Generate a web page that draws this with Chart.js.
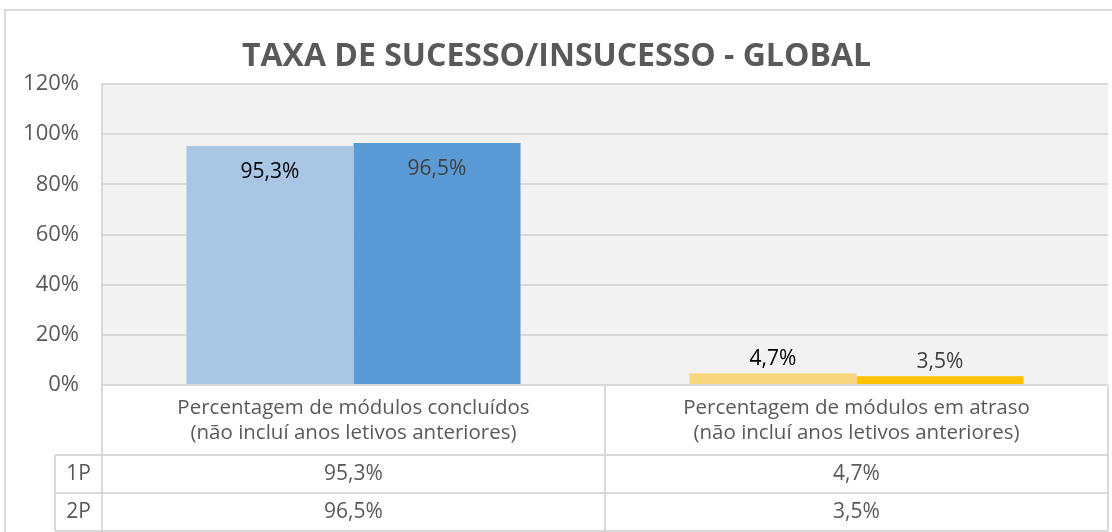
<!DOCTYPE html>
<html>
<head>
<meta charset="utf-8">
<script src="https://cdn.jsdelivr.net/npm/chart.js@4/dist/chart.umd.min.js"></script>
<style>
  body { margin: 0; background: #fff; }
</style>
</head>
<body>
<canvas id="grafico" width="1112" height="532"></canvas>
<script>
// dados
const categorias = [
  ['Percentagem de módulos concluídos', '(não incluí anos letivos anteriores)'],
  ['Percentagem de módulos em atraso', '(não incluí anos letivos anteriores)']
];
const series = ['1P', '2P'];
const valores1P = [95.3, 4.7];
const valores2P = [96.5, 3.5];
const cores1P = ['#a9c6e4', '#f6d87e'];
const cores2P = ['#5b9bd5', '#ffc000'];
const yMax = 120;
const yPasso = 20;

const fonte = '"Open Sans", sans-serif';
const cinza = '#595959';
const linha = '#d9d9d9';

function pct(v) {
  return v.toFixed(1).replace('.', ',') + '%';
}

// fundo + moldura
const fundo = {
  id: 'fundo',
  beforeDraw(chart) {
    const ctx = chart.ctx;
    const a = chart.chartArea;
    ctx.save();
    ctx.fillStyle = '#fff';
    ctx.fillRect(0, 0, chart.width, chart.height);
    ctx.strokeStyle = linha;
    ctx.lineWidth = 2;
    ctx.strokeRect(5, 10, chart.width + 10, chart.height + 10);
    ctx.fillStyle = '#f2f2f2';
    ctx.fillRect(a.left, a.top, a.right - a.left, a.bottom - a.top);
    ctx.restore();
  }
};

// rótulos dos valores
const rotulos = {
  id: 'rotulos',
  afterDatasetsDraw(chart) {
    const ctx = chart.ctx;
    ctx.save();
    ctx.font = '21px ' + fonte;
    ctx.textAlign = 'center';
    ctx.textBaseline = 'middle';
    chart.data.datasets.forEach((ds, i) => {
      const meta = chart.getDatasetMeta(i);
      meta.data.forEach((bar, j) => {
        const v = ds.data[j];
        const alto = bar.base - bar.y > 60;
        const y = alto ? bar.y + 26 : bar.y - 14;
        ctx.fillStyle = i === 0 ? '#000' : '#404040';
        ctx.fillText(pct(v), bar.x, y);
      });
    });
    ctx.restore();
  }
};

// tabela de dados por baixo do eixo
const tabela = {
  id: 'tabela',
  afterDraw(chart) {
    const ctx = chart.ctx;
    const a = chart.chartArea;
    const x = chart.scales.x;
    const meio = (x.getPixelForValue(0) + x.getPixelForValue(1)) / 2;
    const y0 = a.bottom, y1 = y0 + 70, y2 = y1 + 38, y3 = y2 + 38;
    const esq = 55;
    ctx.save();
    ctx.strokeStyle = linha;
    ctx.lineWidth = 2;
    ctx.beginPath();
    ctx.moveTo(a.left, y0); ctx.lineTo(a.right, y0);
    ctx.moveTo(esq, y1); ctx.lineTo(a.right, y1);
    ctx.moveTo(esq, y2); ctx.lineTo(a.right, y2);
    ctx.moveTo(esq, y3); ctx.lineTo(a.right, y3);
    ctx.moveTo(a.left, y0); ctx.lineTo(a.left, y3);
    ctx.moveTo(meio, y0); ctx.lineTo(meio, y3);
    ctx.moveTo(a.right, y0); ctx.lineTo(a.right, y3);
    ctx.moveTo(esq, y1); ctx.lineTo(esq, y3);
    ctx.stroke();

    ctx.fillStyle = cinza;
    ctx.textAlign = 'center';
    ctx.textBaseline = 'middle';
    ctx.font = '20.5px ' + fonte;
    categorias.forEach((c, j) => {
      const cx = x.getPixelForValue(j);
      ctx.fillText(c[0], cx, y0 + 23);
      ctx.fillText(c[1], cx, y0 + 48);
    });
    ctx.font = '21px ' + fonte;
    const linhas = [valores1P, valores2P];
    const ys = [(y1 + y2) / 2, (y2 + y3) / 2];
    series.forEach((s, i) => {
      ctx.fillText(s, (esq + a.left) / 2, ys[i]);
      linhas[i].forEach((v, j) => {
        ctx.fillText(pct(v), x.getPixelForValue(j), ys[i]);
      });
    });
    ctx.restore();
  }
};

new Chart(document.getElementById('grafico'), {
  type: 'bar',
  data: {
    labels: categorias.map(c => c.join(' ')),
    datasets: [
      { label: series[0], data: valores1P, backgroundColor: cores1P },
      { label: series[1], data: valores2P, backgroundColor: cores2P }
    ]
  },
  options: {
    responsive: false,
    animation: false,
    layout: { padding: { top: 10, right: 4, bottom: 147, left: 5 } },
    datasets: { bar: { categoryPercentage: 0.664, barPercentage: 1 } },
    plugins: {
      legend: { display: false },
      tooltip: { enabled: false },
      title: {
        display: true,
        text: 'TAXA DE SUCESSO/INSUCESSO - GLOBAL',
        color: cinza,
        font: { family: fonte, size: 32, weight: 'bold' },
        padding: { top: 28, bottom: 7.6 }
      }
    },
    scales: {
      x: { display: false },
      y: {
        min: 0,
        max: yMax,
        afterFit(s) { s.width = 97; },
        border: { display: true, color: linha, width: 2 },
        grid: { color: linha, lineWidth: 2, drawTicks: false },
        ticks: {
          stepSize: yPasso,
          padding: 23,
          color: cinza,
          font: { family: fonte, size: 22 },
          callback: v => v + '%'
        }
      }
    }
  },
  plugins: [fundo, rotulos, tabela]
});
</script>
</body>
</html>
